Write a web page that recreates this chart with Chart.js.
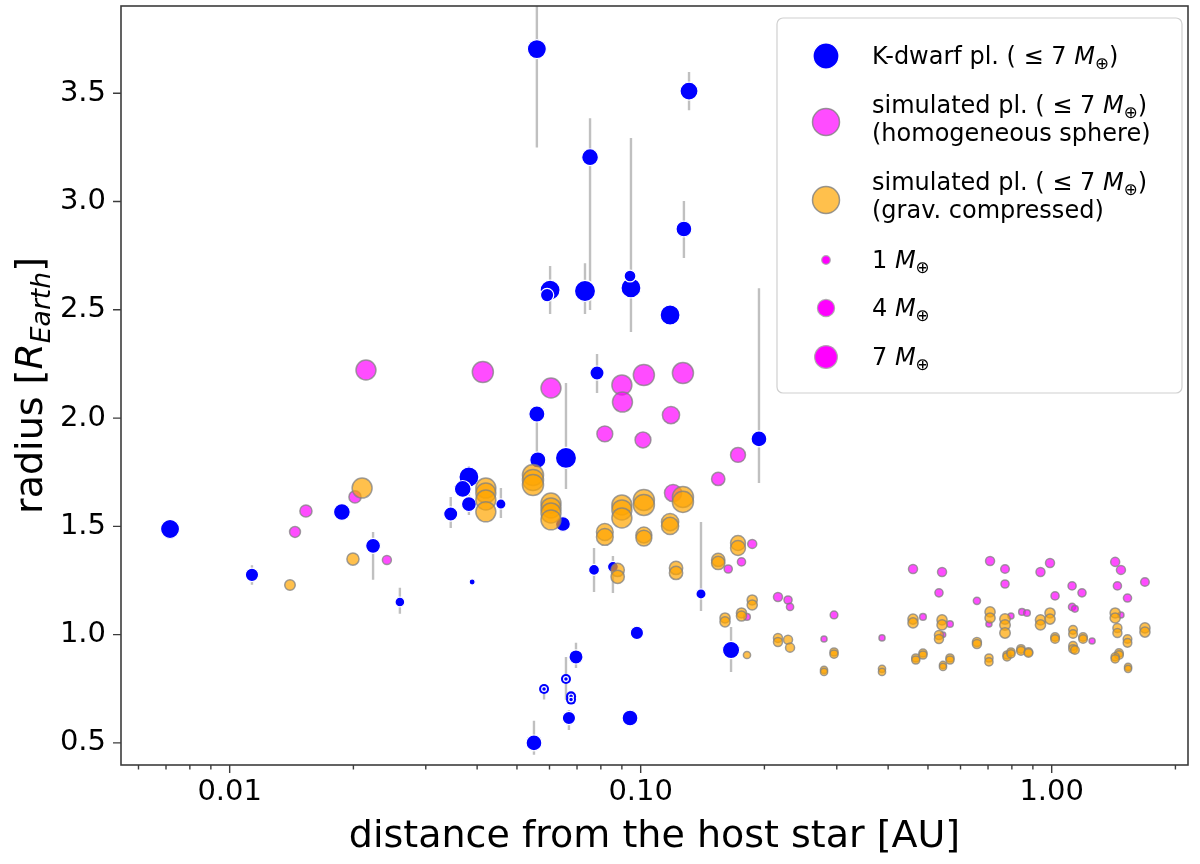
<!DOCTYPE html>
<html>
<head>
<meta charset="utf-8">
<script src="https://cdn.jsdelivr.net/npm/chart.js@4/dist/chart.umd.min.js"></script>
<style>
  html, body { margin: 0; padding: 0; background: #fff; }
  #wrap { width: 1200px; height: 864px; position: relative; }
</style>
</head>
<body>
<div id="wrap"><canvas id="c"></canvas></div>
<script>
/* ---- K-dwarf planets (observed), masses in Earth masses, radius error bars ---- */
const kDist  = [0.00716, 0.01133, 0.01875, 0.02233, 0.02595, 0.0389, 0.0559, 0.0562, 0.0658, 0.194,
                0.0382, 0.0369, 0.0382, 0.0345, 0.0457, 0.0647, 0.077, 0.0856, 0.1402, 0.0979,
                0.1659, 0.0696, 0.0582, 0.0658, 0.0677, 0.0677, 0.0669, 0.0942, 0.055, 0.0559,
                0.1311, 0.0753, 0.1274, 0.0602, 0.0592, 0.0732, 0.0947, 0.0942, 0.1179, 0.0783];
const kRad   = [1.488, 1.276, 1.566, 1.41, 1.151, 1.243, 2.019, 1.807, 1.816, 1.904,
                1.728, 1.673, 1.603, 1.557, 1.603, 1.511, 1.299, 1.313, 1.188, 1.008,
                0.929, 0.897, 0.749, 0.795, 0.715, 0.700, 0.615, 0.615, 0.50, 3.704,
                3.51, 3.205, 2.873, 2.591, 2.568, 2.587, 2.601, 2.656, 2.476, 2.208];
const kMass  = [4.9, 2.4, 3.8, 3.0, 1.3, 0.5, 3.5, 3.5, 6.0, 3.4,
                5.4, 3.8, 3.0, 2.7, 1.4, 3.0, 1.6, 1.6, 1.4, 2.4,
                4.0, 2.7, 0.3, 0.3, 0.3, 0.3, 2.4, 3.4, 3.4, 4.9,
                4.4, 3.8, 3.4, 5.4, 2.4, 6.0, 5.4, 1.9, 5.4, 2.7];
const kErrLo = [null, 1.23, null, 1.253, 1.096, null, 1.83, null, 1.673, 1.70,
                1.553, null, null, 1.493, 1.539, null, 1.197, 1.192, 1.109, null,
                0.828, 0.846, 0.70, 0.699, null, null, 0.56, null, 0.445, 3.25,
                3.422, 2.499, 2.739, 2.481, null, 2.481, 2.398, null, null, 2.116];
const kErrHi = [null, 1.32, null, 1.474, 1.216, null, 2.019, null, 2.162, 2.60,
                1.779, null, null, 1.636, 1.677, null, 1.40, 1.363, 1.52, null,
                1.035, 0.962, 0.77, 0.897, null, null, 0.652, null, 0.602, 3.96,
                3.598, 3.385, 3.002, 2.702, null, 2.715, 3.293, null, null, 2.296];

/* ---- simulated planets, homogeneous sphere ---- */
const homDist = [0.02146, 0.01533, 0.01442, 0.02018, 0.02413, 0.0413, 0.0605, 0.09, 0.1018, 0.1267,
                 0.0903, 0.1185, 0.0818, 0.1013, 0.1725, 0.1544, 0.1868, 0.1759, 0.1633, 0.1814,
                 0.1199, 0.2158, 0.2283, 0.2309, 0.2954, 0.2793, 0.3865, 0.4598, 0.541, 0.5318,
                 0.4862, 0.5656, 0.5439, 0.6578, 0.708, 0.7699, 0.7699, 0.7036, 0.796, 0.8467,
                 0.8707, 0.9391, 0.9906, 1.019, 1.121, 1.185, 1.121, 1.139, 1.254, 1.427,
                 1.474, 1.445, 1.529, 1.686, 1.474];
const homRad  = [2.222, 1.571, 1.474, 1.636, 1.345, 2.213, 2.139, 2.153, 2.199, 2.208,
                 2.074, 2.014, 1.927, 1.899, 1.83, 1.719, 1.419, 1.336, 1.303, 1.082,
                 1.654, 1.174, 1.160, 1.128, 1.091, 0.98, 0.985, 1.303, 1.289, 1.193,
                 1.082, 1.049, 1.0, 1.156, 1.34, 1.303, 1.234, 1.049, 1.086, 1.105,
                 1.10, 1.289, 1.331, 1.179, 1.225, 1.193, 1.128, 1.119, 0.971, 1.336,
                 1.299, 1.225, 1.169, 1.243, 1.091];
const homMass = [5.4, 2.0, 1.6, 2.0, 1.1, 6.0, 5.4, 5.4, 6.0, 6.0,
                 5.4, 4.0, 3.4, 3.4, 3.0, 2.4, 1.1, 0.9, 0.9, 0.6,
                 4.0, 1.1, 0.9, 0.7, 0.8, 0.5, 0.5, 1.1, 1.1, 0.9,
                 0.6, 0.6, 0.4, 0.7, 1.1, 1.0, 0.9, 0.5, 0.5, 0.6,
                 0.6, 1.1, 1.1, 0.9, 0.9, 0.9, 0.7, 0.6, 0.5, 1.1,
                 1.1, 0.9, 0.9, 1.0, 0.5];

/* ---- simulated planets, gravitationally compressed ---- */
const compDist = [0.021, 0.01995, 0.01402,
                  0.042, 0.042, 0.042, 0.042, 0.0547, 0.0547, 0.0547,
                  0.0605, 0.0605, 0.0605, 0.0605, 0.0818, 0.0818, 0.09, 0.09, 0.09,
                  0.1018, 0.1018, 0.1267, 0.1267, 0.1179, 0.1179, 0.1018, 0.1018,
                  0.0879, 0.0879, 0.1219, 0.1219, 0.1544, 0.1544, 0.1725, 0.1725,
                  0.1604, 0.1604, 0.1759, 0.1759, 0.1868, 0.1868, 0.1814,
                  0.2158, 0.2158, 0.2283, 0.2309, 0.2954, 0.2954, 0.2793, 0.2793, 0.3865, 0.3865,
                  0.4598, 0.4598, 0.467, 0.467, 0.4862, 0.4862, 0.541, 0.541, 0.5318, 0.5318,
                  0.5656, 0.5656, 0.5439, 0.5439, 0.6578, 0.6578, 0.708, 0.708,
                  0.7699, 0.7699, 0.7699, 0.7036, 0.7036, 0.7785, 0.7785, 0.796, 0.796,
                  0.842, 0.842, 0.878, 0.878, 0.9391, 0.9391, 0.9906, 0.9906, 1.019, 1.019,
                  1.127, 1.127, 1.127, 1.127, 1.139, 1.192, 1.192, 1.427, 1.427, 1.445, 1.445,
                  1.529, 1.529, 1.458, 1.458, 1.427, 1.427, 1.534, 1.534, 1.686, 1.686];
const compRad  = [1.677, 1.349, 1.229,
                  1.677, 1.654, 1.622, 1.567, 1.737, 1.714, 1.691,
                  1.608, 1.585, 1.562, 1.53, 1.474, 1.451, 1.599, 1.576, 1.539,
                  1.622, 1.599, 1.636, 1.613, 1.520, 1.502, 1.46, 1.446,
                  1.299, 1.267, 1.308, 1.285, 1.345, 1.331, 1.423, 1.40,
                  1.077, 1.059, 1.10, 1.086, 1.16, 1.137, 0.906,
                  0.985, 0.966, 0.976, 0.94, 0.92, 0.91, 0.837, 0.828, 0.842, 0.828,
                  1.072, 1.054, 0.892, 0.883, 0.915, 0.906, 1.068, 1.045, 0.998, 0.98,
                  0.892, 0.883, 0.86, 0.851, 0.966, 0.957, 1.105, 1.077,
                  1.072, 1.045, 1.008, 0.892, 0.874, 0.906, 0.897, 0.92, 0.911,
                  0.934, 0.925, 0.92, 0.915, 1.068, 1.045, 1.1, 1.072, 0.989, 0.98,
                  1.022, 1.003, 0.948, 0.934, 0.929, 0.989, 0.98, 1.1, 1.077, 1.031, 1.008,
                  0.98, 0.962, 0.915, 0.906, 0.897, 0.888, 0.851, 0.842, 1.031, 1.012];
const compMass = [5.4, 2.0, 1.5,
                  5.4, 5.4, 5.4, 5.4, 6.0, 6.0, 6.0,
                  5.4, 5.4, 5.4, 5.4, 3.8, 3.8, 5.4, 5.4, 5.4,
                  6.0, 6.0, 6.0, 6.0, 4.0, 4.0, 3.4, 3.4,
                  2.4, 2.4, 2.4, 2.4, 2.4, 2.4, 3.0, 3.0,
                  1.4, 1.4, 1.4, 1.4, 1.4, 1.4, 0.7,
                  1.1, 1.1, 1.1, 1.1, 0.9, 0.9, 0.7, 0.7, 0.7, 0.7,
                  1.4, 1.4, 0.9, 0.9, 0.9, 0.9, 1.4, 1.4, 1.1, 1.1,
                  0.9, 0.9, 0.7, 0.7, 1.1, 1.1, 1.4, 1.4,
                  1.5, 1.5, 1.5, 0.9, 0.9, 0.9, 0.9, 0.9, 0.9,
                  1.0, 1.0, 1.0, 1.0, 1.4, 1.4, 1.4, 1.4, 1.0, 1.0,
                  1.0, 1.0, 1.0, 1.0, 1.0, 1.0, 1.0, 1.4, 1.4, 1.1, 1.1,
                  1.0, 1.0, 1.0, 1.0, 0.9, 0.9, 0.7, 0.7, 1.4, 1.4];

/* ---- axes ---- */
const xTickVals  = [0.006, 0.007, 0.008, 0.009, 0.01, 0.02, 0.03, 0.04, 0.05, 0.06, 0.07, 0.08, 0.09,
                    0.1, 0.2, 0.3, 0.4, 0.5, 0.6, 0.7, 0.8, 0.9, 1, 2];
const xMajorVals = [0.01, 0.1, 1];
const xMajorText = ['0.01', '0.10', '1.00'];
const yTickVals  = [0.5, 1.0, 1.5, 2.0, 2.5, 3.0, 3.5];

/* ---- legend ---- */
const legendMasses = [1, 4, 7];

const FONT = '"DejaVu Sans", sans-serif';
const sizeOf = m => 4.3 * Math.sqrt(m);   // marker radius from planet mass

const pts = (xs, ys) => xs.map((x, i) => ({ x: x, y: ys[i] }));

// error bars: one line dataset, segments split by null points
const errPts = [];
kDist.forEach((x, i) => {
  if (kErrLo[i] === null) return;
  errPts.push({ x: x, y: kErrLo[i] }, { x: x, y: kErrHi[i] }, { x: x, y: null });
});

// the tiniest K-dwarf planets show a blue halo round the white-edged dot
const haloPts = pts(kDist, kRad).filter((p, i) => kMass[i] < 0.35);

/* ---- frame, tick marks, y title and legend ---- */
function runs(ctx, x, y, parts, size) {
  for (const p of parts) {
    const fs = p.sub ? size * 0.7 : size;
    ctx.font = (p.it ? 'italic ' : '') + fs + 'px ' + FONT;
    ctx.fillText(p.t, x, y + (p.sub ? size * 0.2 : 0));
    x += ctx.measureText(p.t).width;
  }
  return x;
}
function runsWidth(ctx, parts, size) {
  let w = 0;
  for (const p of parts) {
    const fs = p.sub ? size * 0.7 : size;
    ctx.font = (p.it ? 'italic ' : '') + fs + 'px ' + FONT;
    w += ctx.measureText(p.t).width;
  }
  return w;
}
function dot(ctx, x, y, r, fill, edge, lw) {
  ctx.beginPath();
  ctx.arc(x, y, r, 0, Math.PI * 2);
  ctx.fillStyle = fill;
  ctx.fill();
  ctx.lineWidth = lw;
  ctx.strokeStyle = edge;
  ctx.stroke();
}

const decor = {
  id: 'decor',
  afterDraw(chart) {
    const ctx = chart.ctx;
    const a = chart.chartArea;
    const sx = chart.scales.x, sy = chart.scales.y;
    ctx.save();

    // frame
    ctx.strokeStyle = '#3c3c3c';
    ctx.lineWidth = 1.6;
    ctx.strokeRect(a.left, a.top, a.right - a.left, a.bottom - a.top);

    // tick marks
    ctx.lineWidth = 1.4;
    ctx.beginPath();
    sx.ticks.forEach(t => {
      const px = sx.getPixelForValue(t.value);
      ctx.moveTo(px, a.bottom);
      ctx.lineTo(px, a.bottom + (t.major ? 8 : 4.5));
    });
    sy.ticks.forEach(t => {
      const py = sy.getPixelForValue(t.value);
      ctx.moveTo(a.left, py);
      ctx.lineTo(a.left - 8, py);
    });
    ctx.stroke();

    // y title with subscript
    const yParts = [{ t: 'radius [' }, { t: 'R', it: true }, { t: 'Earth', it: true, sub: true }, { t: ']' }];
    ctx.fillStyle = '#000';
    ctx.textBaseline = 'alphabetic';
    ctx.textAlign = 'left';
    const w = runsWidth(ctx, yParts, 38);
    ctx.translate(42, (a.top + a.bottom) / 2);
    ctx.rotate(-Math.PI / 2);
    runs(ctx, -w / 2, 0, yParts, 38);
    ctx.setTransform(1, 0, 0, 1, 0, 0);
    ctx.restore();
    ctx.save();

    // legend box
    const bx = 777, by = 18, bw = 405, bh = 375, rr = 6;
    ctx.beginPath();
    ctx.roundRect(bx, by, bw, bh, rr);
    ctx.fillStyle = 'rgba(255,255,255,0.85)';
    ctx.fill();
    ctx.strokeStyle = '#d0d0d0';
    ctx.lineWidth = 1.2;
    ctx.stroke();

    const mx = 826, tx = 872, fs = 24;
    const msun = [{ t: 'M', it: true }, { t: '\u2295', sub: true }];
    dot(ctx, mx, 56, 13, '#0000ff', '#ffffff', 1.2);
    dot(ctx, mx, 122, 13.5, 'rgba(255,0,255,0.7)', 'rgba(128,128,128,0.8)', 1.5);
    dot(ctx, mx, 200, 13.5, 'rgba(255,165,0,0.7)', 'rgba(128,128,128,0.8)', 1.5);
    const my = [260, 308, 357];
    legendMasses.forEach((m, i) => {
      dot(ctx, mx, my[i], sizeOf(m), '#ff00ff', 'rgba(170,170,170,0.9)', 1.2);
    });

    ctx.fillStyle = '#000';
    ctx.textBaseline = 'alphabetic';
    runs(ctx, tx, 64, [{ t: 'K-dwarf pl. ( \u2264 7 ' }, ...msun, { t: ')' }], fs);
    runs(ctx, tx, 113, [{ t: 'simulated pl. ( \u2264 7 ' }, ...msun, { t: ')' }], fs);
    runs(ctx, tx, 141, [{ t: '(homogeneous sphere)' }], fs);
    runs(ctx, tx, 190, [{ t: 'simulated pl. ( \u2264 7 ' }, ...msun, { t: ')' }], fs);
    runs(ctx, tx, 218, [{ t: '(grav. compressed)' }], fs);
    legendMasses.forEach((m, i) => {
      runs(ctx, tx, my[i] + 8, [{ t: m + ' ' }, ...msun], fs);
    });
    ctx.restore();
  }
};

new Chart(document.getElementById('c'), {
  type: 'scatter',
  data: {
    datasets: [
      {
        label: 'errors',
        data: errPts,
        showLine: true,
        spanGaps: false,
        borderColor: '#c0c0c0',
        borderWidth: 2.4,
        pointRadius: 0,
        order: 5
      },
      {
        label: 'halo',
        data: haloPts,
        backgroundColor: '#0000ff',
        borderWidth: 0,
        pointRadius: 5,
        order: 4
      },
      {
        label: 'K-dwarf pl.',
        data: pts(kDist, kRad),
        backgroundColor: '#0000ff',
        borderColor: '#ffffff',
        borderWidth: 1.2,
        pointRadius: c => sizeOf(kMass[c.dataIndex]),
        order: 3
      },
      {
        label: 'simulated pl. (homogeneous sphere)',
        data: pts(homDist, homRad),
        backgroundColor: 'rgba(255,0,255,0.7)',
        borderColor: 'rgba(128,128,128,0.75)',
        borderWidth: 1.5,
        pointRadius: c => sizeOf(homMass[c.dataIndex]),
        order: 2
      },
      {
        label: 'simulated pl. (grav. compressed)',
        data: pts(compDist, compRad),
        backgroundColor: 'rgba(255,165,0,0.7)',
        borderColor: 'rgba(128,128,128,0.75)',
        borderWidth: 1.5,
        pointRadius: c => sizeOf(compMass[c.dataIndex]),
        order: 1
      }
    ]
  },
  options: {
    responsive: true,
    maintainAspectRatio: false,
    animation: false,
    events: [],
    layout: { autoPadding: false, padding: { top: 6, right: 12, left: 0, bottom: 0 } },
    plugins: { legend: { display: false }, tooltip: { enabled: false } },
    scales: {
      x: {
        type: 'logarithmic',
        min: 0.00544,
        max: 2.146,
        grid: { display: false, drawTicks: true, tickLength: 8 },
        border: { display: false },
        afterBuildTicks: s => {
          s.ticks = xTickVals.map(v => ({ value: v, major: xMajorVals.includes(v) }));
        },
        afterFit: s => { s.height = 99; s.paddingLeft = 0; s.paddingRight = 0; },
        ticks: {
          autoSkip: false,
          maxRotation: 0,
          padding: 2,
          color: '#000',
          font: { family: FONT, size: 29 },
          callback: v => {
            const k = xMajorVals.indexOf(v);
            return k >= 0 ? xMajorText[k] : '';
          }
        },
        title: {
          display: true,
          text: 'distance from the host star [AU]',
          color: '#000',
          font: { family: FONT, size: 38 },
          padding: { top: 0, bottom: 4 }
        }
      },
      y: {
        type: 'linear',
        min: 0.398,
        max: 3.903,
        grid: { display: false, drawTicks: true, tickLength: 8 },
        border: { display: false },
        afterBuildTicks: s => { s.ticks = yTickVals.map(v => ({ value: v })); },
        afterFit: s => { s.width = 121; s.paddingTop = 0; s.paddingBottom = 0; },
        ticks: {
          padding: 7,
          color: '#000',
          font: { family: FONT, size: 29 },
          callback: v => v.toFixed(1)
        }
      }
    }
  },
  plugins: [decor]
});
</script>
</body>
</html>
